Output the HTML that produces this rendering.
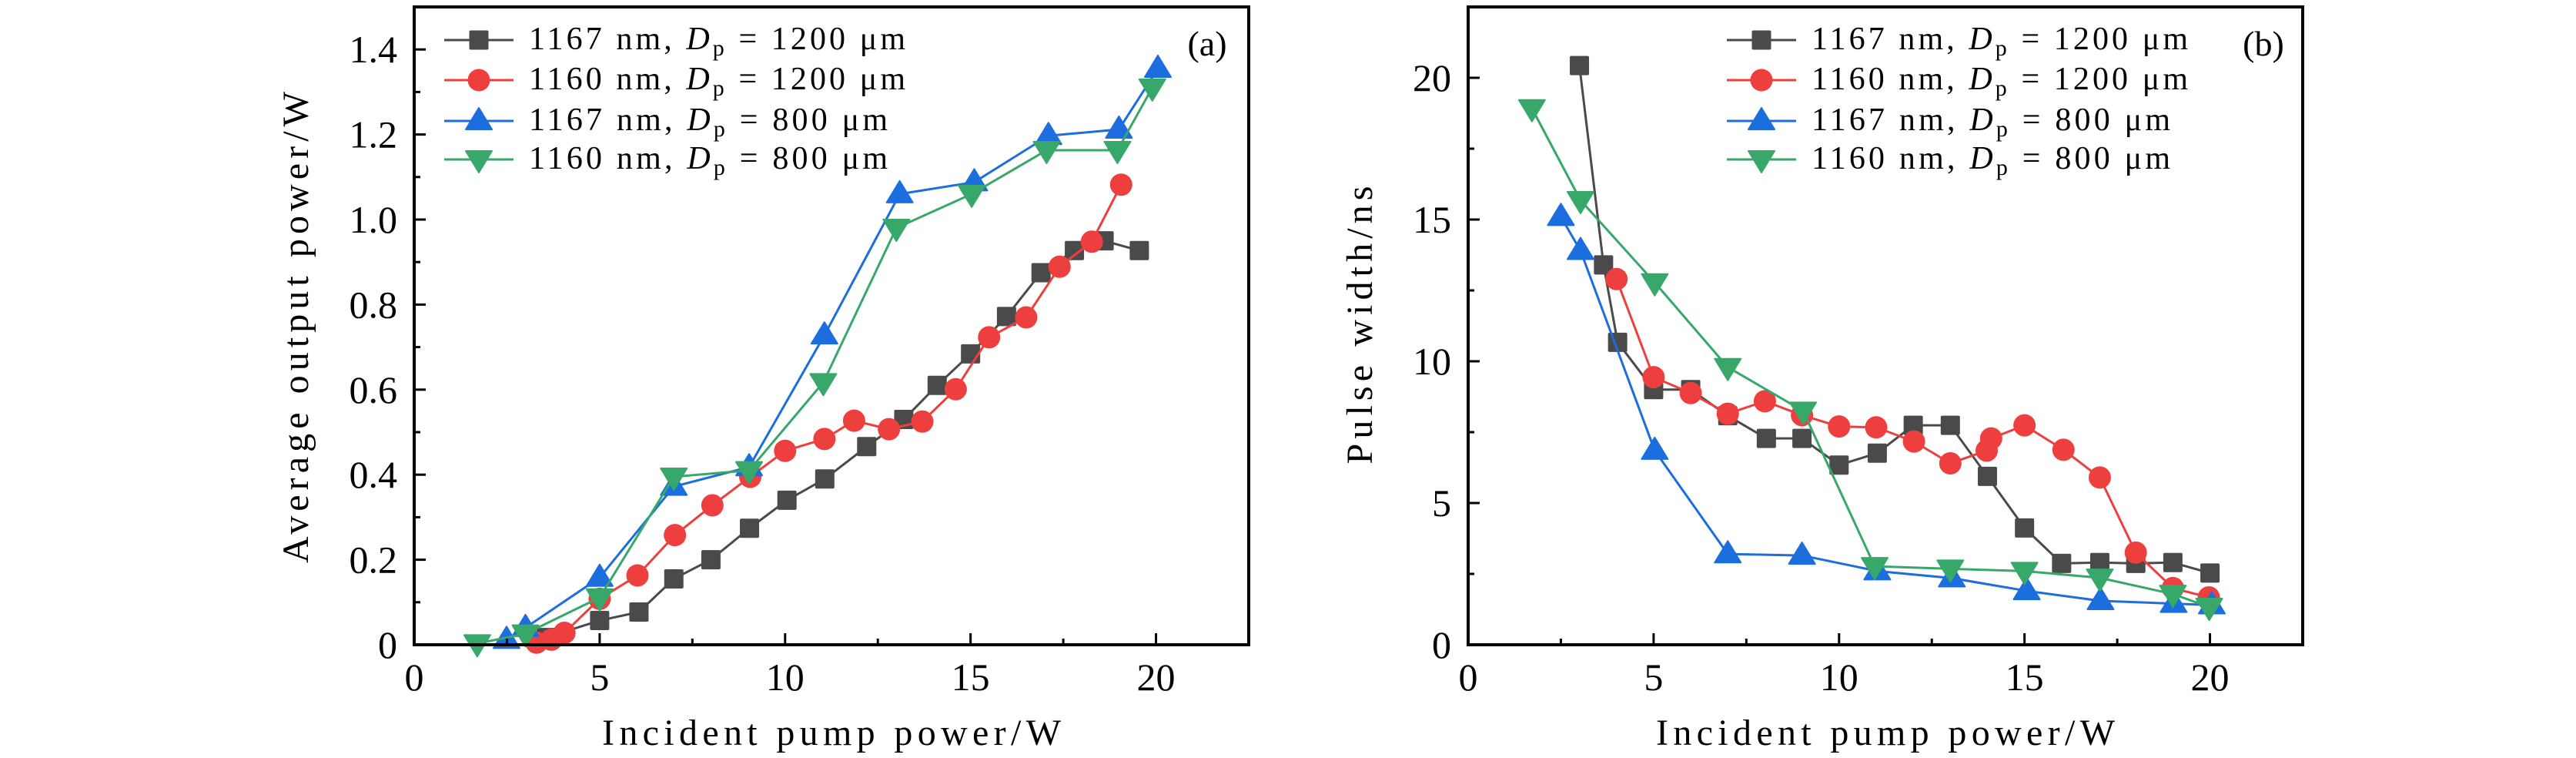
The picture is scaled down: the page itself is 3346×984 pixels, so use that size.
<!DOCTYPE html>
<html><head><meta charset="utf-8"><style>
html,body{margin:0;padding:0;background:#fff}
svg{display:block}
text{font-family:"Liberation Serif",serif;fill:#000}
</style></head><body>
<svg id="chart" width="3346" height="984" viewBox="0 0 3346 984" xmlns="http://www.w3.org/2000/svg"></svg>
<script>
// Panel (a) data: average output power
const aBlackX=[3.56,5.0,6.06,7.0,8.0,9.04,10.05,11.07,12.2,13.2,14.1,15.0,15.97,16.9,17.8,18.6,19.55];
const aBlackY=[0.017,0.057,0.077,0.155,0.2,0.274,0.34,0.39,0.466,0.53,0.61,0.684,0.772,0.875,0.927,0.95,0.927];
const aRedX=[3.3,3.7,4.05,5.0,6.02,7.03,8.04,9.06,10.0,11.06,11.86,12.8,13.7,14.6,15.5,16.5,17.4,18.27,19.06];
const aRedY=[0.005,0.012,0.028,0.108,0.163,0.258,0.328,0.395,0.456,0.484,0.527,0.507,0.525,0.601,0.723,0.77,0.889,0.948,1.082];
const aBlueX=[2.49,3.0,5.0,7.0,9.03,11.06,13.09,15.1,17.1,19.0,20.05];
const aBlueY=[0.012,0.04,0.158,0.372,0.418,0.728,1.06,1.088,1.197,1.212,1.355];
const aGreenX=[1.7,3.0,5.0,7.0,9.03,11.03,13.0,15.03,17.05,18.96,19.9];
const aGreenY=[0.003,0.026,0.111,0.395,0.41,0.617,0.98,1.06,1.163,1.163,1.31];
const aXTicks=[0,5,10,15,20];
const aYTicks=[0,0.2,0.4,0.6,0.8,1.0,1.2,1.4];
const aYTickLabels=["0","0.2","0.4","0.6","0.8","1.0","1.2","1.4"];
// Panel (b) data: pulse width
const bBlackX=[3.0,3.65,4.03,5.0,6.0,7.0,8.04,9.0,10.0,11.03,12.0,13.0,14.0,15.0,16.0,17.03,18.0,19.0,20.0];
const bBlackY=[20.43,13.4,10.67,9.0,9.0,8.08,7.28,7.28,6.34,6.76,7.74,7.74,5.94,4.12,2.87,2.9,2.87,2.9,2.53];
const bRedX=[4.0,5.0,6.0,7.0,8.0,9.0,10.0,11.0,12.02,13.0,13.98,14.1,15.0,16.05,17.03,18.0,19.0,19.97];
const bRedY=[12.9,9.44,8.88,8.15,8.59,8.1,7.7,7.67,7.17,6.4,6.85,7.28,7.74,6.88,5.9,3.25,2.0,1.67];
const bBlueX=[2.5,3.03,5.03,7.0,9.0,11.03,13.04,15.06,17.05,19.02,20.05];
const bBlueY=[15.1,13.9,6.85,3.2,3.15,2.6,2.35,1.9,1.55,1.45,1.4];
const bGreenX=[1.72,3.03,5.03,7.0,9.03,10.96,13.0,15.0,17.03,19.0,19.98];
const bGreenY=[18.92,15.68,12.78,9.79,8.25,2.77,2.68,2.6,2.36,1.79,1.33];
const bXTicks=[0,5,10,15,20];
const bYTicks=[0,5,10,15,20];
const bYTickLabels=["0","5","10","15","20"];
const legendLabels=[["1167 nm, ","1200 μm"],["1160 nm, ","1200 μm"],["1167 nm, ","800 μm"],["1160 nm, ","800 μm"]];

const NS="http://www.w3.org/2000/svg";
const svg=document.getElementById('chart');
const colors=["#4a4a4a","#ee3f3f","#1c6ddd","#37a86a"];
const markers=["square","circle","up","down"];
const legendLens=[489,489,466,466];
function mk(tag,attrs,parent){const e=document.createElementNS(NS,tag);for(const k in attrs)e.setAttribute(k,attrs[k]);(parent||svg).appendChild(e);return e;}

function marker(g,type,cx,cy,color){
  let e;
  if(type==="square"){e=mk('rect',{x:cx-12.5,y:cy-12.5,width:25,height:25,rx:2,fill:color},g);}
  else if(type==="circle"){e=mk('circle',{cx:cx,cy:cy,r:14.5,fill:color},g);}
  else if(type==="up"){e=mk('polygon',{points:`${cx},${cy-17} ${cx+17},${cy+11} ${cx-17},${cy+11}`,fill:color,'stroke':color,'stroke-width':2,'stroke-linejoin':'round'},g);}
  else {e=mk('polygon',{points:`${cx},${cy+17} ${cx+17},${cy-11} ${cx-17},${cy-11}`,fill:color,'stroke':color,'stroke-width':2,'stroke-linejoin':'round'},g);}
  
  
}

function panel(cfg){
  const L=cfg.left,T=9,B=837,R=cfg.left+1084;
  const sx=v=>L+(v-0)/22.5*(R-L);
  const sy=v=>B-(v-0)/cfg.ymax*(B-T);
  const g=mk('g',{});
  
  
  cfg.series.forEach((s,i)=>{
    const sg=mk('g',{},g);
    
    
    const pts=s.x.map((v,j)=>sx(v)+','+sy(s.y[j])).join(' ');
    const pl=mk('polyline',{points:pts,fill:'none',stroke:colors[i],'stroke-width':3,'stroke-linejoin':'round'},sg);
    
    
    s.x.forEach((v,j)=>marker(sg,markers[i],sx(v),sy(s.y[j]),colors[i]));
  });
  const fr=mk('rect',{x:L,y:T,width:R-L,height:B-T,fill:'none',stroke:'#000','stroke-width':4},g);
  
  
  for(let v=0;v<=22.5;v+=2.5){
    const major=Math.abs(v/5-Math.round(v/5))<1e-6;
    const t=mk('line',{x1:sx(v),x2:sx(v),y1:B,y2:B-(major?15:8),stroke:'#000','stroke-width':3},g);
    
    
  }
  cfg.xt.forEach(v=>{
    const t=mk('text',{x:sx(v),y:896,'font-size':50,'text-anchor':'middle'},g);
    t.textContent=String(v);
    
    
  });
  for(let k=0;k*cfg.minor<=cfg.ymax+1e-9;k++){
    const v=k*cfg.minor;
    const major=k%2===0;
    const t=mk('line',{x1:L,x2:L+(major?15:8),y1:sy(v),y2:sy(v),stroke:'#000','stroke-width':3},g);
    
    
  }
  cfg.yt.forEach((v,i)=>{
    const t=mk('text',{x:L-22,y:sy(v)+17,'font-size':50,'text-anchor':'end'},g);
    t.textContent=cfg.ytl[i];
    
    
  });
  const xtl=mk('text',{x:cfg.xtc,y:967,'font-size':48,'text-anchor':'middle',textLength:596,lengthAdjust:'spacing'},g);
  xtl.textContent='Incident pump power/W';
  
  
  const ytl=mk('text',{x:0,y:0,'font-size':48,'text-anchor':'middle',textLength:cfg.ylen,lengthAdjust:'spacing',transform:`translate(${cfg.ytx},${cfg.ytc}) rotate(-90)`},g);
  ytl.textContent=cfg.ytitle;
  
  
  const pl=mk('text',{x:cfg.plx,y:72,'font-size':46,'text-anchor':'middle'},g);
  pl.textContent=cfg.label;
  
  
  const lg=mk('g',{},g);
  
  
  const rows=[52,104,157,207];
  legendLabels.forEach((lab,i)=>{
    const eg=mk('g',{},lg);
    
    
    const y=rows[i];
    mk('line',{x1:cfg.lgx,x2:cfg.lgx+90,y1:y,y2:y,stroke:colors[i],'stroke-width':3},eg);
    marker(eg,markers[i],cfg.lgx+45,y,colors[i]);
    const t=mk('text',{x:cfg.lgx+110,y:y+12,'font-size':42,textLength:legendLens[i],lengthAdjust:'spacing'},eg);
    
    
    const a=mk('tspan',{},t);a.textContent=lab[0];
    const d=mk('tspan',{'font-style':'italic'},t);d.textContent='D';
    const p=mk('tspan',{'font-size':30,dy:8},t);p.textContent='p';
    const r=mk('tspan',{dy:-8},t);r.textContent=' = '+lab[1];
  });
}

panel({name:'panel-a-output-power',left:538,ymax:1.5,minor:0.1,xt:aXTicks,yt:aYTicks,ytl:aYTickLabels,
  xtc:1080,ytitle:'Average output power/W',ytx:400,ytc:425,ylen:612,label:'(a)',plx:1568,lgx:577,
  series:[{id:'1167nm-1200um',x:aBlackX,y:aBlackY},{id:'1160nm-1200um',x:aRedX,y:aRedY},{id:'1167nm-800um',x:aBlueX,y:aBlueY},{id:'1160nm-800um',x:aGreenX,y:aGreenY}]});
panel({name:'panel-b-pulse-width',left:1907,ymax:22.5,minor:2.5,xt:bXTicks,yt:bYTicks,ytl:bYTickLabels,
  xtc:2449,ytitle:'Pulse width/ns',ytx:1782,ytc:422,ylen:361,label:'(b)',plx:2940,lgx:2243,
  series:[{id:'1167nm-1200um',x:bBlackX,y:bBlackY},{id:'1160nm-1200um',x:bRedX,y:bRedY},{id:'1167nm-800um',x:bBlueX,y:bBlueY},{id:'1160nm-800um',x:bGreenX,y:bGreenY}]});
</script>
</body></html>
